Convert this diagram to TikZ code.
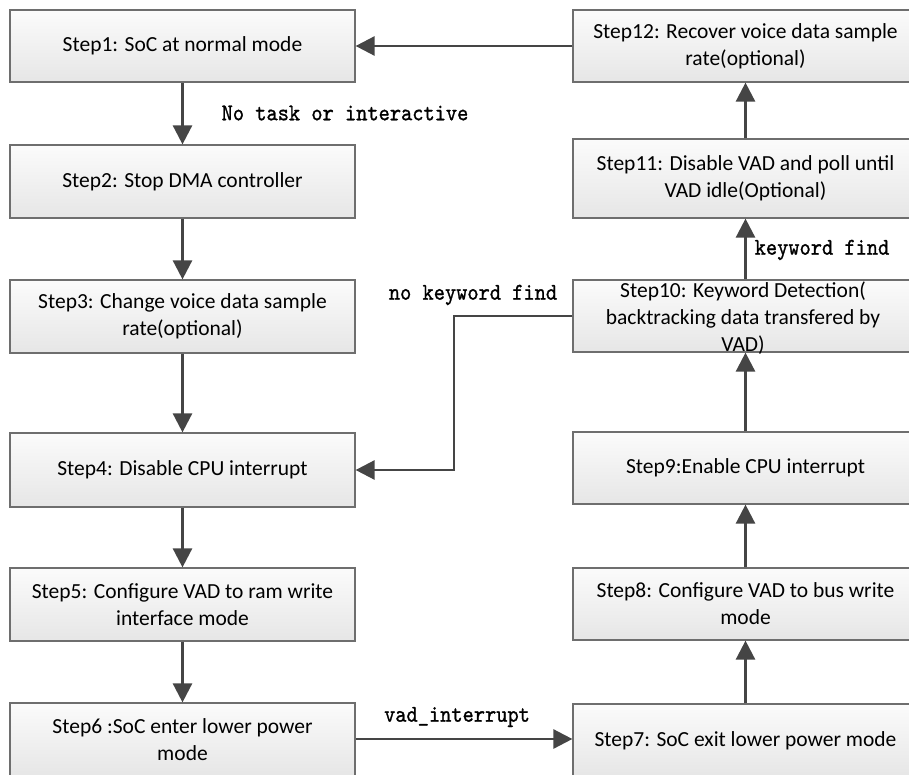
\documentclass[tikz,border=0pt]{standalone}
\usepackage{fontspec}
\setmainfont{Carlito}
\newfontfamily\lblfont[FakeBold=1.2]{lmmono10-regular.otf}
\usetikzlibrary{arrows.meta}
\definecolor{boxline}{HTML}{6E6E6E}
\definecolor{arrcol}{HTML}{454545}
\definecolor{boxtop}{HTML}{FBFBFB}
\definecolor{boxbot}{HTML}{E6E6E6}
\newcommand{\lbltext}[1]{\scalebox{0.89}[1]{\lblfont #1}}
\begin{document}
\begin{tikzpicture}[x=1pt,y=-1pt,
  stepbox/.style={draw=boxline, line width=1.2pt, top color=boxtop, bottom color=boxbot,
    minimum width=345pt, minimum height=72pt, inner sep=0pt, align=center,
    font=\fontsize{21.5}{27}\selectfont},
  steptext/.style={inner sep=0pt, align=center, font=\fontsize{21.5}{27}\selectfont},
  arr/.style={draw=arrcol, line width=2.6pt, -{Triangle[length=19pt,width=19pt]}},
  lbl/.style={inner sep=0pt, font=\fontsize{24}{26}\selectfont}]
\useasboundingbox (0,0) rectangle (909,775);
\clip (0,0) rectangle (909,775);
% left column
\node[stepbox] (s1) at (182.5,46) {Step1: SoC at normal mode};
\node[stepbox, minimum height=73pt] (s2) at (182.5,181.5) {Step2: Stop DMA controller};
\node[stepbox, minimum height=73pt] (s3) at (182.5,316.5) {Step3: Change voice data sample\\rate(optional)};
\node[stepbox, minimum height=74pt] (s4) at (182.5,470) {Step4: Disable CPU interrupt};
\node[stepbox, minimum height=73pt] (s5) at (182.5,604.5) {Step5: Configure VAD to ram write\\interface mode};
\node[stepbox, minimum height=73pt] (s6) at (182.5,739.5) {Step6 :SoC enter lower power\\mode};
% right column
\node[stepbox] (s12) at (745.5,46) {Step12: Recover voice data sample\\rate(optional)};
\node[stepbox, minimum height=79pt] (s11) at (745.5,178.5) {Step11: Disable VAD and poll until\\VAD idle(Optional)};
\node[stepbox] (s10) at (745.5,316) {};
\node[steptext] (t10) at (743,318) {Step10: Keyword Detection(\\backtracking data transfered by\\VAD)};
\node[stepbox] (s9) at (745.5,468) {Step9:Enable CPU interrupt};
\node[stepbox] (s8) at (745.5,604) {Step8: Configure VAD to bus write\\mode};
\node[stepbox, minimum height=73pt] (s7) at (745.5,740.5) {Step7: SoC exit lower power mode};
% connectors
\draw[arr] (s1.south) -- (s2.north);
\draw[arr] (s2.south) -- (s3.north);
\draw[arr] (s3.south) -- (s4.north);
\draw[arr] (s4.south) -- (s5.north);
\draw[arr] (s5.south) -- (s6.north);
\draw[arr] (s6.east |- 0,739) -- (s7.west |- 0,739);
\draw[arr] (s7.north) -- (s8.south);
\draw[arr] (s8.north) -- (s9.south);
\draw[arr] (s9.north) -- (s10.south);
\draw[arr] (s10.north) -- (s11.south);
\draw[arr] (s11.north) -- (s12.south);
\draw[arr] (s12.west) -- (s1.east);
\coordinate (bend) at (454,316);
\draw[arr] (s10.west) -- (bend) |- (s4.east);
% labels
\node[lbl] (l1) at (345,113) {\lbltext{No task or interactive}};
\node[lbl] (l2) at (822,250) {\lbltext{keyword find}};
\node[lbl] (l3) at (473,295) {\lbltext{no keyword find}};
\node[lbl] (l4) at (457,717) {\lbltext{vad\_interrupt}};
\end{tikzpicture}
\end{document}
